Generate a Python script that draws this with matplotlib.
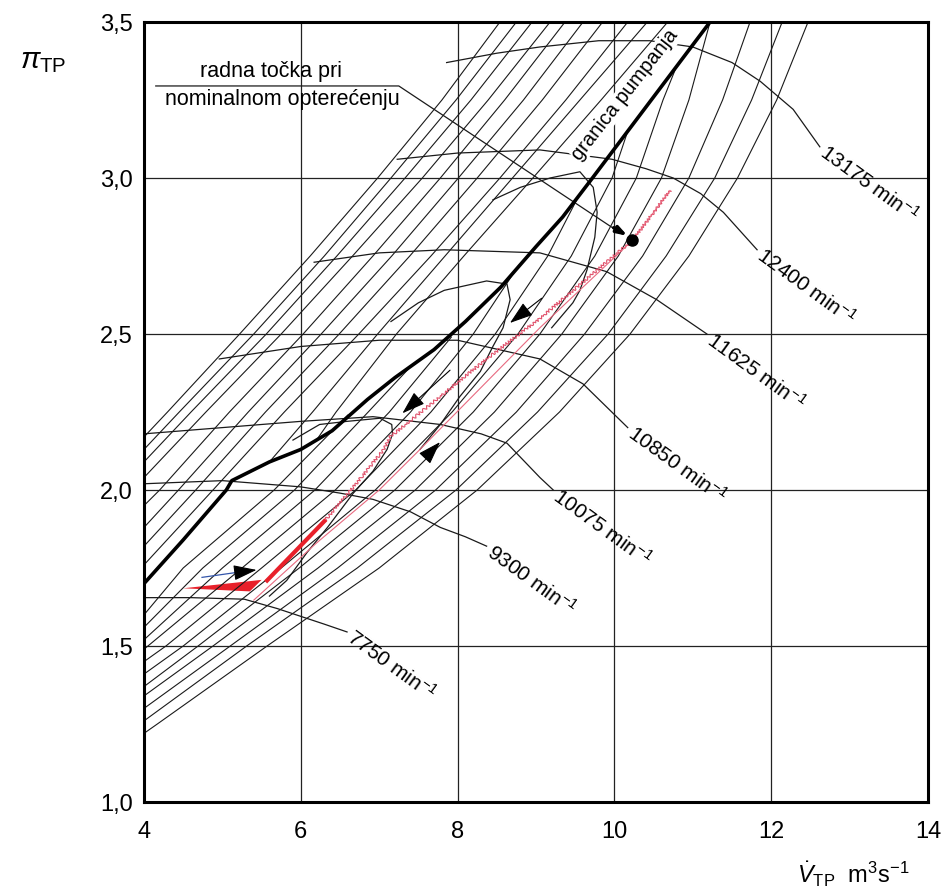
import matplotlib
matplotlib.use("Agg")
import matplotlib.pyplot as plt
import numpy as np

plt.rcParams['font.family'] = ['Liberation Sans', 'DejaVu Sans']
plt.rcParams['mathtext.fontset'] = 'custom'
plt.rcParams['mathtext.rm'] = 'Liberation Sans'
plt.rcParams['mathtext.it'] = 'Liberation Sans:italic'

# surge line (granica pumpanja)
surge_v = [4.0, 4.5, 5.05, 5.12, 5.6, 6.0, 6.4, 6.85, 7.2, 7.7, 8.1, 8.55, 9.0, 9.34, 9.72, 10.47, 11.22]
surge_pi = [1.70, 1.84, 2.00, 2.03, 2.09, 2.13, 2.19, 2.29, 2.36, 2.45, 2.54, 2.65, 2.78, 2.875, 3.00, 3.25, 3.50]

# speed lines
speed_labels = ["7750", "9300", "10075", "10850", "11625", "12400", "13175"]
speed_v = [
    [4.0, 4.6, 5.28, 5.7, 6.0, 6.3, 6.59],
    [4.0, 5.0, 6.0, 6.5, 6.92, 7.4, 7.78, 8.1, 8.37],
    [4.0, 5.0, 6.0, 6.92, 7.78, 8.3, 8.63, 9.05, 9.22],
    [4.96, 6.0, 7.0, 8.0, 9.05, 9.6, 10.17],
    [6.17, 7.0, 7.83, 9.05, 9.9, 10.54, 11.18],
    [7.23, 8.0, 9.05, 9.97, 10.4, 10.75, 11.1, 11.39, 11.82],
    [7.86, 8.5, 9.05, 9.8, 10.45, 11.0, 11.5, 11.86, 12.28, 12.62],
]
speed_pi = [
    [1.655, 1.655, 1.65, 1.62, 1.595, 1.57, 1.545],
    [2.02, 2.03, 2.01, 1.99, 1.97, 1.93, 1.88, 1.85, 1.82],
    [2.18, 2.20, 2.22, 2.235, 2.21, 2.18, 2.15, 2.04, 2.00],
    [2.42, 2.46, 2.48, 2.48, 2.42, 2.34, 2.20],
    [2.73, 2.76, 2.77, 2.76, 2.70, 2.61, 2.50],
    [3.06, 3.08, 3.09, 3.06, 3.03, 3.00, 2.95, 2.89, 2.77],
    [3.37, 3.40, 3.42, 3.44, 3.44, 3.42, 3.37, 3.31, 3.22, 3.10],
]

# thin characteristic lines left of the surge line
lvl_u = [2.25, 2.5, 2.75, 3.0, 3.25, 3.5]
lvl_u2 = [2.0, 2.25, 2.5, 2.75, 3.0, 3.25, 3.5]
left_v = [
    [4.0, 4.30, 5.22, 6.12, 6.98, 7.80, 8.54],
    [4.0, 4.45, 5.40, 6.30, 7.15, 7.98, 8.75],
    [4.0, 4.60, 5.56, 6.46, 7.33, 8.17, 8.95],
    [4.0, 4.79, 5.75, 6.66, 7.55, 8.39, 9.18],
    [4.0, 4.20, 5.09, 6.03, 6.92, 7.78, 8.60, 9.37],
    [4.0, 4.44, 5.33, 6.26, 7.16, 8.01, 8.84, 9.60],
    [4.0, 4.66, 5.55, 6.49, 7.39, 8.25, 9.08, 9.85],
    [4.0, 4.88, 5.79, 6.74, 7.66, 8.54, 9.38, 10.17],
    [5.6, 6.15, 6.98, 7.84, 8.70, 9.56, 10.42],
    [6.2, 6.45, 7.22, 8.08, 8.96, 9.83, 10.68],
]
left_pi = [
    [2.17] + lvl_u,
    [2.13] + lvl_u,
    [2.09] + lvl_u,
    [2.04] + lvl_u,
    [1.95] + lvl_u2,
    [1.88] + lvl_u2,
    [1.82] + lvl_u2,
    [1.76] + lvl_u2,
    [2.09] + lvl_u,
    [2.16] + lvl_u,
]

# thin characteristic lines right of the surge line (end where they meet it)
right_v = [
    [4.0, 4.17, 5.57, 7.00, 8.25, 9.30, 10.20, 10.95, 11.57, 12.07, 12.47],
    [4.0, 5.31, 6.72, 7.98, 9.02, 9.92, 10.66, 11.28, 11.75, 12.14],
    [4.0, 5.10, 6.47, 7.72, 8.75, 9.62, 10.36, 10.95, 11.38, 11.73],
    [4.0, 4.88, 6.22, 7.46, 8.47, 9.33, 10.05, 10.60, 10.95, 11.22],
    [4.0, 4.69, 5.98, 7.20, 8.20, 9.05, 9.75, 10.28, 10.62, 10.78],
    [4.0, 4.50, 5.75, 6.95, 7.93, 8.77, 9.45, 9.97, 10.17],
    [4.0, 4.28, 5.50, 6.70, 7.66, 8.48, 9.15, 9.56],
    [4.0, 4.05, 5.25, 6.44, 7.40, 8.20, 8.78],
    [4.0, 5.00, 6.18, 7.13, 7.92],
    [4.0, 4.75, 5.92, 6.86, 7.38],
    [4.0, 4.50, 5.66, 6.60],
]
right_pi = [
    [1.22, 1.25, 1.5, 1.75, 2.0, 2.25, 2.5, 2.75, 3.0, 3.25, 3.5],
    [1.26, 1.5, 1.75, 2.0, 2.25, 2.5, 2.75, 3.0, 3.25, 3.5],
    [1.30, 1.5, 1.75, 2.0, 2.25, 2.5, 2.75, 3.0, 3.25, 3.5],
    [1.34, 1.5, 1.75, 2.0, 2.25, 2.5, 2.75, 3.0, 3.25, 3.5],
    [1.37, 1.5, 1.75, 2.0, 2.25, 2.5, 2.75, 3.0, 3.25, 3.35],
    [1.41, 1.5, 1.75, 2.0, 2.25, 2.5, 2.75, 3.0, 3.15],
    [1.45, 1.5, 1.75, 2.0, 2.25, 2.5, 2.75, 2.95],
    [1.49, 1.5, 1.75, 2.0, 2.25, 2.5, 2.72],
    [1.52, 1.75, 2.0, 2.25, 2.49],
    [1.56, 1.75, 2.0, 2.25, 2.39],
    [1.60, 1.75, 2.0, 2.24],
]

# simulated (black) loops
loopA_v = [5.9, 6.24, 6.59, 7.01, 7.16, 7.17, 7.10, 6.92, 6.67, 6.34, 6.08, 5.82, 5.6]
loopA_pi = [2.16, 2.21, 2.22, 2.23, 2.21, 2.18, 2.13, 2.06, 1.99, 1.88, 1.80, 1.71, 1.66]
loopB_v = [7.15, 7.5, 7.83, 8.37, 8.63, 8.67, 8.58, 8.45, 8.29, 8.03, 7.78, 7.52]
loopB_pi = [2.54, 2.60, 2.64, 2.67, 2.66, 2.61, 2.52, 2.46, 2.38, 2.30, 2.21, 2.13]
loopC_v = [8.45, 8.8, 9.18, 9.56, 9.73, 9.78, 9.75, 9.65, 9.56, 9.47, 9.2]
loopC_pi = [2.93, 2.97, 3.00, 3.02, 2.97, 2.89, 2.81, 2.705, 2.64, 2.60, 2.52]

# measured (red) trajectory
red1_v = [6.3, 6.64, 7.06, 7.14, 8.37, 9.05, 10.23, 10.71]
red1_pi = [1.90, 2.00, 2.13, 2.17, 2.42, 2.55, 2.80, 2.96]
red2_v = [5.4, 6.2, 7.0, 7.52, 9.05, 10.23, 10.71]
red2_pi = [1.647, 1.83, 2.0, 2.13, 2.52, 2.80, 2.96]
red_thick_v = [5.57, 6.3]
red_thick_pi = [1.71, 1.90]
wedge_v = [4.5, 5.5, 5.35]
wedge_pi = [1.685, 1.712, 1.675]

op_v, op_pi = 10.23, 2.80

fig = plt.figure(figsize=(9.48, 8.94), dpi=100)
ax = fig.add_axes([144 / 948, 92 / 894, 784 / 948, 780 / 894])
ax.set_xlim(4, 14)
ax.set_ylim(1.0, 3.5)
ax.set_xticks(np.arange(4, 15, 2))
ax.set_yticks([1.0, 1.5, 2.0, 2.5, 3.0, 3.5])
ax.set_yticklabels(["1,0", "1,5", "2,0", "2,5", "3,0", "3,5"])
ax.tick_params(length=0, labelsize=17, pad=8)
ax.tick_params(axis='x', pad=14)
ax.grid(True, color='#222222', lw=0.9)
ax.set_axisbelow(True)
for s in ax.spines.values():
    s.set_linewidth(2.2)

for v, p in zip(left_v + right_v, left_pi + right_pi):
    ax.plot(v, p, color='#1a1a1a', lw=0.8)

for lab, v, p in zip(speed_labels, speed_v, speed_pi):
    ax.plot(v, p, color='#1a1a1a', lw=0.9)
    ax.text(v[-1] + 0.03, p[-1] - 0.01, lab + r" min$^{\mathregular{-1}}$", fontsize=15,
            rotation=-36, rotation_mode='anchor', ha='left', va='center')

ax.plot(loopA_v, loopA_pi, color='#1a1a1a', lw=0.9)
ax.plot(loopB_v, loopB_pi, color='#1a1a1a', lw=0.9)
ax.plot(loopC_v, loopC_pi, color='#1a1a1a', lw=0.9)

ax.plot(surge_v, surge_pi, color='black', lw=2.6, zorder=4)
ax.text(10.14, 3.266, "granica pumpanja", fontsize=14.5, rotation=52,
        ha='center', va='center', rotation_mode='anchor',
        bbox=dict(facecolor='white', edgecolor='none', pad=0.3))

l1, = ax.plot(red1_v, red1_pi, color='#e0506a', lw=0.8)
l1.set_sketch_params(scale=1.5, length=4, randomness=2)
ax.plot(red2_v, red2_pi, color='#e86a80', lw=0.8)
ax.plot(red_thick_v, red_thick_pi, color='#e8202a', lw=3)
ax.fill(wedge_v, wedge_pi, color='#e8202a', lw=0)

# arrows
ax.plot([4.74, 5.3], [1.72, 1.74], color='#3355aa', lw=0.9)
arrow_kw = dict(arrowstyle='-|>,head_length=0.9,head_width=0.3', color='black', lw=0.8,
                mutation_scale=16)
ax.annotate('', xy=(5.47, 1.745), xytext=(5.25, 1.738), arrowprops=arrow_kw)
ax.annotate('', xy=(7.80, 2.16), xytext=(7.65, 2.12), arrowprops=arrow_kw)
ax.annotate('', xy=(7.27, 2.24), xytext=(7.93, 2.39), arrowprops=arrow_kw)
ax.annotate('', xy=(8.64, 2.53), xytext=(9.1, 2.62), arrowprops=arrow_kw)

# leader to operating point
ax.plot([4.15, 7.25, 9.98], [3.295, 3.295, 2.84], color='#1a1a1a', lw=0.9)
ax.annotate('', xy=(10.2, 2.81), xytext=(9.96, 2.845),
            arrowprops=dict(arrowstyle='-|>,head_length=0.6,head_width=0.2', color='black', lw=2.5))
ax.plot([op_v], [op_pi], 'o', color='black', ms=8, zorder=5)
ax.text(5.62, 3.34, "radna točka pri", fontsize=15.5, ha='center', va='center')
ax.text(5.76, 3.25, "nominalnom opterećenju", fontsize=15.5, ha='center', va='center')

ax.text(-0.158, 0.95, r"$\pi_{\mathregular{TP}}$", transform=ax.transAxes, fontsize=21,
        ha='left', va='center')
ax.text(0.977, -0.104, r"$\dot{V}_{\mathregular{TP}}$  m$^{\mathregular{3}}$s$^{\mathregular{-1}}$",
        transform=ax.transAxes, fontsize=17, ha='right', va='baseline')

fig.savefig("out.png", dpi=100)
